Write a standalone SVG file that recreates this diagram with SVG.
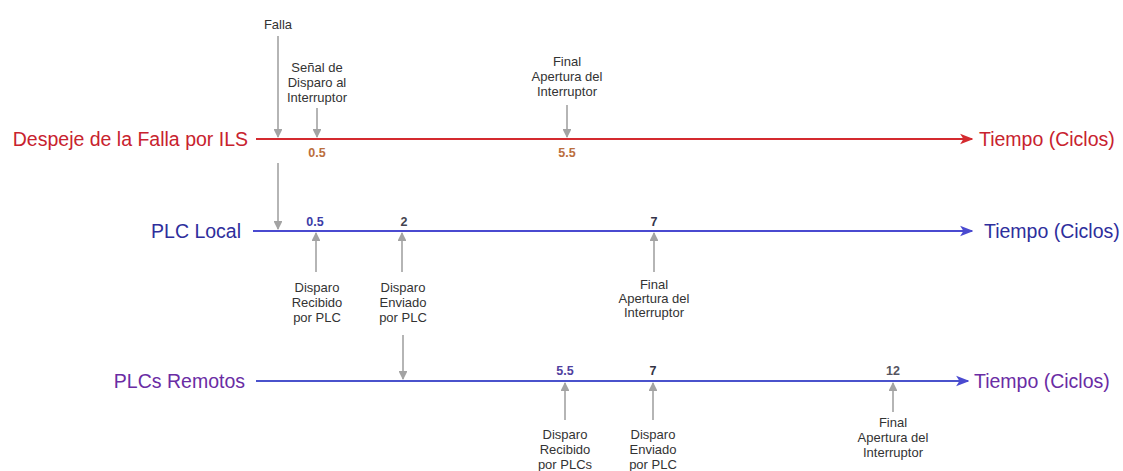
<svg xmlns="http://www.w3.org/2000/svg" width="1123" height="471" viewBox="0 0 1123 471">
<style>
.axis-label{font-family:"Liberation Sans",Arial,sans-serif;font-size:19.5px}
.small{font-family:"Liberation Sans",Arial,sans-serif;font-size:13px;fill:#333;text-anchor:middle}
.num{font-family:"Liberation Sans",Arial,sans-serif;font-size:12.5px;font-weight:bold;text-anchor:middle}
.garrow{stroke:#a3a3a3;stroke-width:1.6;fill:none;marker-end:url(#ga)}
</style>
<defs>
<marker id="ga" viewBox="0 0 10 10" refX="9" refY="5" markerWidth="5.5" markerHeight="5.5" orient="auto" markerUnits="strokeWidth">
<path d="M0,0 L10,5 L0,10 Z" fill="#a3a3a3"/>
</marker>
<marker id="ra" viewBox="0 0 10 10" refX="9" refY="5" markerWidth="6" markerHeight="6" orient="auto" markerUnits="strokeWidth">
<path d="M0,1 L10,5 L0,9 L2.5,5 Z" fill="#d42a2f"/>
</marker>
<marker id="ba" viewBox="0 0 10 10" refX="9" refY="5" markerWidth="6" markerHeight="6" orient="auto" markerUnits="strokeWidth">
<path d="M0,1 L10,5 L0,9 L2.5,5 Z" fill="#4a4ad0"/>
</marker>
</defs>
<rect width="1123" height="471" fill="#ffffff"/>

<g id="timeline-ils">
<text class="axis-label" x="248" y="146" text-anchor="end" fill="#c8222e">Despeje de la Falla por ILS</text>
<text class="axis-label" x="979" y="146" fill="#c8222e">Tiempo (Ciclos)</text>
<text class="num" x="317" y="157" fill="#bb6e3c">0.5</text>
<text class="num" x="567" y="157" fill="#bb6e3c">5.5</text>
</g>

<g id="timeline-plc-local">
<text class="axis-label" x="241" y="238" text-anchor="end" fill="#2e2e9c">PLC Local</text>
<text class="axis-label" x="984" y="238" fill="#2e2e9c">Tiempo (Ciclos)</text>
<text class="num" x="315" y="226" fill="#3c3ca8">0.5</text>
<text class="num" x="404" y="226" fill="#444450">2</text>
<text class="num" x="654" y="226" fill="#33334a">7</text>
</g>

<g id="timeline-plcs-remotos">
<text class="axis-label" x="245" y="388" text-anchor="end" fill="#6a2ca4">PLCs Remotos</text>
<text class="axis-label" x="974" y="388" fill="#6a2ca4">Tiempo (Ciclos)</text>
<text class="num" x="565" y="375" fill="#5040a0">5.5</text>
<text class="num" x="653" y="375" fill="#333344">7</text>
<text class="num" x="893" y="375" fill="#555560">12</text>
</g>

<g id="label-falla">
<text class="small" x="278" y="29">Falla</text>
</g>
<g id="label-senal">
<text class="small" x="317" y="72">Señal de</text>
<text class="small" x="317" y="87">Disparo al</text>
<text class="small" x="317" y="102">Interruptor</text>
</g>
<g id="label-final-ils">
<text class="small" x="567" y="66">Final</text>
<text class="small" x="567" y="81">Apertura del</text>
<text class="small" x="567" y="96">Interruptor</text>
</g>
<g id="label-recibido-plc">
<text class="small" x="317" y="292">Disparo</text>
<text class="small" x="317" y="307">Recibido</text>
<text class="small" x="317" y="322">por PLC</text>
</g>
<g id="label-enviado-plc">
<text class="small" x="403" y="292">Disparo</text>
<text class="small" x="403" y="307">Enviado</text>
<text class="small" x="403" y="322">por PLC</text>
</g>
<g id="label-final-local">
<text class="small" x="654" y="289">Final</text>
<text class="small" x="654" y="303">Apertura del</text>
<text class="small" x="654" y="317">Interruptor</text>
</g>
<g id="label-recibido-plcs">
<text class="small" x="565" y="439">Disparo</text>
<text class="small" x="565" y="454">Recibido</text>
<text class="small" x="565" y="469">por PLCs</text>
</g>
<g id="label-enviado-remoto">
<text class="small" x="653" y="439">Disparo</text>
<text class="small" x="653" y="454">Enviado</text>
<text class="small" x="653" y="469">por PLC</text>
</g>
<g id="label-final-remoto">
<text class="small" x="893" y="427">Final</text>
<text class="small" x="893" y="442">Apertura del</text>
<text class="small" x="893" y="457">Interruptor</text>
</g>

<g id="connectors">
<line x1="256" y1="139" x2="972" y2="139" stroke="#d42a2f" stroke-width="2.2" marker-end="url(#ra)"/>
<line x1="253" y1="231" x2="972" y2="231" stroke="#4a4ad0" stroke-width="2.2" marker-end="url(#ba)"/>
<line x1="256" y1="381" x2="968" y2="381" stroke="#4a52cc" stroke-width="2.2" marker-end="url(#ba)"/>
<line class="garrow" x1="278" y1="36" x2="278" y2="137"/>
<line class="garrow" x1="317" y1="108" x2="317" y2="137"/>
<line class="garrow" x1="567" y1="105" x2="567" y2="137"/>
<line class="garrow" x1="278" y1="163" x2="278" y2="229"/>
<line class="garrow" x1="316" y1="272" x2="316" y2="233"/>
<line class="garrow" x1="402" y1="272" x2="402" y2="233"/>
<line class="garrow" x1="654" y1="272" x2="654" y2="233"/>
<line class="garrow" x1="403" y1="335" x2="403" y2="379"/>
<line class="garrow" x1="565" y1="420" x2="565" y2="383"/>
<line class="garrow" x1="653" y1="420" x2="653" y2="383"/>
<line class="garrow" x1="893" y1="412" x2="893" y2="383"/>
</g>
</svg>
